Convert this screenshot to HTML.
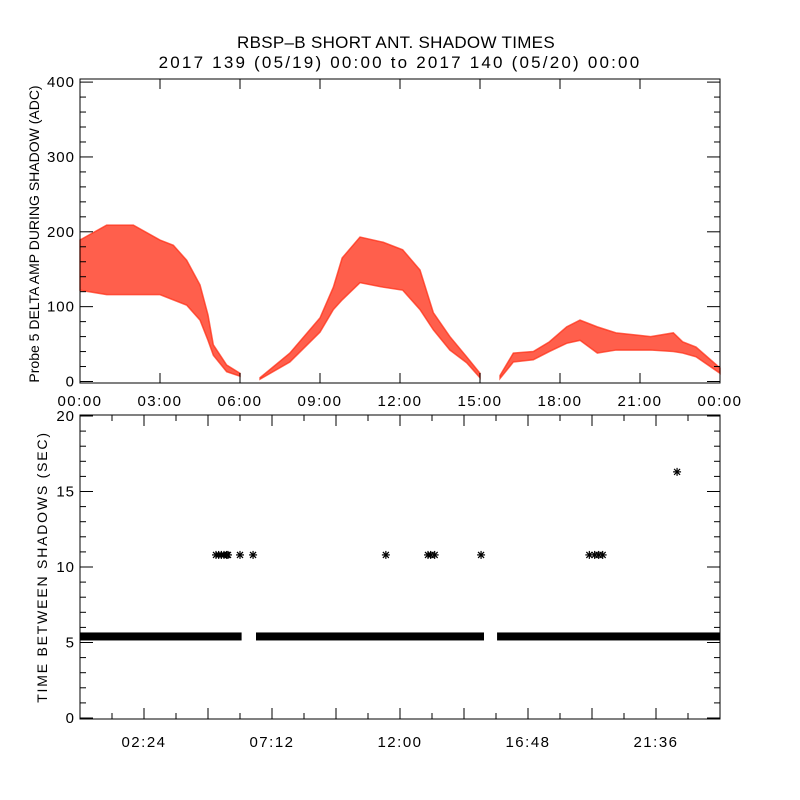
<!DOCTYPE html>
<html><head><meta charset="utf-8"><style>
body{margin:0;background:#fff}
svg{display:block;font-family:"Liberation Sans",sans-serif}
</style></head><body>
<svg id="c" width="800" height="800" xmlns="http://www.w3.org/2000/svg">
<rect width="800" height="800" fill="#fff"/>
<text x="396" y="48" text-anchor="middle" font-size="17" letter-spacing="0.3">RBSP–B SHORT ANT. SHADOW TIMES</text>
<text x="400" y="68" text-anchor="middle" font-size="17" letter-spacing="2.2">2017 139 (05/19) 00:00 to 2017 140 (05/20) 00:00</text>
<g id="topPanel"></g><g id="botPanel"></g>
<text transform="translate(39,234) rotate(-90)" text-anchor="middle" font-size="14">Probe 5 DELTA AMP DURING SHADOW (ADC)</text>
<text transform="translate(47,567) rotate(-90)" text-anchor="middle" font-size="14" letter-spacing="1.8">TIME BETWEEN SHADOWS (SEC)</text>
</svg>
<script>
// ---- top panel data (hours, upper ADC, lower ADC) per segment
const seg1T=[0,1,2,3,3.5,4,4.5,4.8,5,5.5,6];
const seg1U=[189,209,209,189,182,162,129,89,49,22,11];
const seg1L=[122,116,116,116,109,102,82,55,35,13,7];
const seg2T=[6.75,7.87,9,9.5,9.83,10.5,11.37,12.1,12.75,13.25,13.87,14.5,15];
const seg2U=[5,38,85,126,165,193,186,176,149,92,60,33,11];
const seg2L=[3,26,66,96,109,132,126,122,96,69,42,25,5];
const seg3T=[15.75,16.25,17,17.6,18.25,18.75,19.4,20.1,21.4,22.25,22.6,23.1,24];
const seg3U=[8,38,40,53,73,82,73,65,60,65,53,46,18];
const seg3L=[4,26,29,40,51,55,38,42,42,40,38,33,11];
const topYTicks=[0,100,200,300,400];
const topXTicks=["00:00","03:00","06:00","09:00","12:00","15:00","18:00","21:00","00:00"];
// ---- bottom panel data
const rowValue=5.4;
const rowStart=[0,6.6,15.64];
const rowEnd=[6.06,15.15,24];
const starT=[5.1,5.2,5.3,5.4,5.5,5.55,6.0,6.49,11.47,13.05,13.15,13.3,15.04,19.1,19.3,19.45,19.6,22.39];
const starV=[10.8,10.8,10.8,10.8,10.8,10.8,10.8,10.8,10.8,10.8,10.8,10.8,10.8,10.8,10.8,10.8,10.8,16.3];
const botYTicks=[0,5,10,15,20];
const botXTicks=["02:24","07:12","12:00","16:48","21:36"];

const NS="http://www.w3.org/2000/svg";
function mk(p,tag,a){const e=document.createElementNS(NS,tag);for(const k in a)e.setAttribute(k,a[k]);p.appendChild(e);return e;}
const X0=80,X1=720;
const xs=h=>X0+(X1-X0)*h/24;
const yTop=v=>381.5-v*0.7485;
const yBot=v=>718-v*15.1;

const topG=document.getElementById('topPanel');
function band(T,U,L,name){
  let pts=T.map((t,i)=>xs(t)+','+yTop(U[i]));
  for(let i=T.length-1;i>=0;i--)pts.push(xs(T[i])+','+yTop(L[i]));
  const p=mk(topG,'polygon',{points:pts.join(' '),fill:'#ff2a10','fill-opacity':'0.75',stroke:'#ff2a10','stroke-width':'1.5','stroke-opacity':'0.7'});
  
  
}
band(seg1T,seg1U,seg1L,'amp-band-segment-1');
band(seg2T,seg2U,seg2L,'amp-band-segment-2');
band(seg3T,seg3U,seg3L,'amp-band-segment-3');
const tb=mk(topG,'rect',{x:X0,y:79,width:X1-X0,height:304,fill:'none',stroke:'#000','stroke-width':'1'});


for(let v=0;v<=400;v+=20){
  const y=yTop(v),L=(v%100===0)?13:6;
  mk(topG,'line',{x1:X0,x2:X0+L,y1:y,y2:y,stroke:'#000'});
  mk(topG,'line',{x1:X1-L,x2:X1,y1:y,y2:y,stroke:'#000'});
}
topYTicks.forEach(v=>{const t=mk(topG,'text',{x:75,y:yTop(v)+5,'text-anchor':'end','font-size':'15','letter-spacing':'1'});t.textContent=v;

});
topXTicks.forEach((s,i)=>{const x=xs(i*3);
  mk(topG,'line',{x1:x,x2:x,y1:383,y2:373,stroke:'#000'});
  mk(topG,'line',{x1:x,x2:x,y1:79,y2:89,stroke:'#000'});
  const t=mk(topG,'text',{x:x,y:406,'text-anchor':'middle','font-size':'15','letter-spacing':'1.5'});t.textContent=s;
  
  });

const botG=document.getElementById('botPanel');
rowStart.forEach((s,i)=>{const r=mk(botG,'rect',{x:xs(s),y:yBot(rowValue)-4,width:xs(rowEnd[i])-xs(s),height:8,fill:'#000'});
  
  });
starT.forEach((t,i)=>{const x=xs(t),y=yBot(starV[i]);
  const g=mk(botG,'g',{stroke:'#000','stroke-width':'1.2'});
  
  
  mk(g,'line',{x1:x-4,x2:x+4,y1:y,y2:y});mk(g,'line',{x1:x,x2:x,y1:y-4,y2:y+4});
  mk(g,'line',{x1:x-3,x2:x+3,y1:y-3,y2:y+3});mk(g,'line',{x1:x-3,x2:x+3,y1:y+3,y2:y-3});});
const bb=mk(botG,'rect',{x:X0,y:415,width:X1-X0,height:304,fill:'none',stroke:'#000','stroke-width':'1'});


for(let v=0;v<=20;v++){const y=yBot(v),L=(v%5===0)?13:6;
  mk(botG,'line',{x1:X0,x2:X0+L,y1:y,y2:y,stroke:'#000'});
  mk(botG,'line',{x1:X1-L,x2:X1,y1:y,y2:y,stroke:'#000'});}
botYTicks.forEach(v=>{const t=mk(botG,'text',{x:75,y:yBot(v)+5,'text-anchor':'end','font-size':'15','letter-spacing':'1'});t.textContent=v;
  
  });
for(let k=1;k<20;k++){const x=xs(k*1.2),L=(k%2===0)?11:6;
  mk(botG,'line',{x1:x,x2:x,y1:719,y2:719-L,stroke:'#000'});
  mk(botG,'line',{x1:x,x2:x,y1:415,y2:415+L,stroke:'#000'});}
botXTicks.forEach((s,i)=>{const t=mk(botG,'text',{x:xs(2.4+i*4.8),y:747,'text-anchor':'middle','font-size':'15','letter-spacing':'1.5'});t.textContent=s;
  
  });
</script>
</body></html>
